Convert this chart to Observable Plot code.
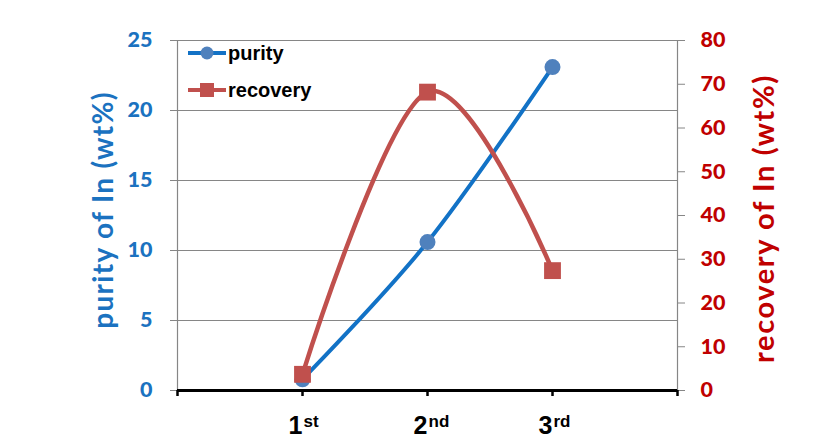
<!DOCTYPE html>
<html><head><meta charset="utf-8">
<script src="https://cdn.jsdelivr.net/npm/d3@7"></script>
<script src="https://cdn.jsdelivr.net/npm/@observablehq/plot@0.6"></script>
<style>
body{margin:0;background:#fff}
#wrap{position:relative;width:834px;height:443px;overflow:hidden}
.ytitle{position:absolute;font-family:Lato,sans-serif;font-weight:bold;white-space:nowrap;transform-origin:center center;}
.leg{position:absolute;font-family:"Liberation Sans",Arial,sans-serif;font-weight:bold;font-size:20px;color:#000;display:flex;align-items:center}
</style>
</head><body><div id="wrap"></div>
<script>
// ---- data ----
const categories = ["1st", "2nd", "3rd"];
const catNumbers = ["1", "2", "3"];
const catSuffixes = ["st", "nd", "rd"];
const purity = [0.8, 10.6, 23.1];      // left axis, wt%
const recovery = [3.7, 68.2, 27.4];    // right axis, wt%
const leftTicks = [0, 5, 10, 15, 20, 25];
const rightTicks = [0, 10, 20, 30, 40, 50, 60, 70, 80];
const xTicks = [0, 1, 2, 3, 4];

const leftMax = 25, rightMax = 80;
const k = leftMax / rightMax;

const blueLine = "#1272C6", blueDot = "#4F81BD";
const red = "#C0504D";
const blueText = "#1B72C0", redText = "#C00000";

const rows = categories.map((c, i) => ({
  cat: c, xi: i + 1, num: catNumbers[i], suf: catSuffixes[i],
  purity: purity[i], recovery: recovery[i], recScaled: recovery[i] * k
}));

const smooth = d3.curveCardinal.tension(0);

const chart = Plot.plot({
  width: 834, height: 443,
  marginLeft: 177, marginRight: 157, marginTop: 40, marginBottom: 53,
  style: {fontFamily: "Lato, sans-serif", fontWeight: "bold", background: "#fff", overflow: "visible"},
  x: {domain: [0, 4]},
  y: {domain: [0, leftMax]},
  marks: [
    Plot.gridY(leftTicks, {stroke: "#868686", strokeOpacity: 1, strokeWidth: 1.2}),
    Plot.ruleX([0], {stroke: "#868686", strokeWidth: 1.2}),
    Plot.ruleX([4], {stroke: "#868686", strokeWidth: 1.2}),
    Plot.axisY(leftTicks, {anchor: "left", tickSize: 7, tickPadding: 18, stroke: "#868686",
      fill: blueText, fontSize: 21.5, fontWeight: 900, label: null}),
    Plot.axisY(rightTicks.map(v => v * k), {anchor: "right", tickSize: 7, tickPadding: 16, stroke: "#868686",
      fill: redText, fontSize: 21.5, fontWeight: 900, label: null,
      tickFormat: d => String(Math.round(d / k))}),
    Plot.axisX(xTicks, {anchor: "bottom", tickSize: 6, stroke: "#000", strokeWidth: 2.5, tickFormat: () => "", label: null}),
    Plot.ruleY([0], {stroke: "#000", strokeWidth: 3}),
    Plot.text(rows, {x: "xi", y: 0, text: "num", textAnchor: "end", lineAnchor: "top", dy: 26,
      fontSize: 25, fontFamily: "Liberation Sans, Arial, sans-serif", fontWeight: "bold", fill: "#000"}),
    Plot.text(rows, {x: "xi", y: 0, text: "suf", textAnchor: "start", lineAnchor: "top", dy: 24, dx: 1,
      fontSize: 17, fontFamily: "Liberation Sans, Arial, sans-serif", fontWeight: "bold", fill: "#000"}),
    Plot.line(rows, {x: "xi", y: "purity", curve: smooth, stroke: blueLine, strokeWidth: 4}),
    Plot.dot(rows, {x: "xi", y: "purity", r: 8, fill: blueDot, stroke: null}),
    Plot.line(rows, {x: "xi", y: "recScaled", curve: smooth, stroke: red, strokeWidth: 4.5}),
    Plot.dot(rows, {x: "xi", y: "recScaled", symbol: "square", r: 9.5, fill: red, stroke: null})
  ]
});

const wrap = document.getElementById("wrap");
wrap.appendChild(chart);

// axis titles
function addTitle(text, color, cx, cy, size, spacing) {
  const d = document.createElement("div");
  d.className = "ytitle";
  d.textContent = text;
  d.style.color = color;
  d.style.fontSize = size + "px";
  d.style.letterSpacing = spacing + "px";
  wrap.appendChild(d);
  const w = d.offsetWidth, h = d.offsetHeight;
  d.style.left = (cx - w / 2) + "px";
  d.style.top = (cy - h / 2) + "px";
  d.style.transform = "rotate(-90deg)";
}
addTitle("purity of In (wt%)", blueText, 101, 210, 28, 1.3);
addTitle("recovery of In (wt%)", redText, 762, 218, 29, 1.6);

// legend
function addLegend(label, color, sym, top) {
  const d = document.createElement("div");
  d.className = "leg";
  d.style.left = "188px";
  d.style.top = (top - 14) + "px";
  d.style.height = "28px";
  const marker = sym === "circle"
    ? `<circle cx="19" cy="14" r="6.5" fill="${blueDot}"/>`
    : `<rect x="12" y="7" width="14" height="14" fill="${color}"/>`;
  d.innerHTML = `<svg width="38" height="28"><line x1="0" x2="38" y1="14" y2="14" stroke="${color}" stroke-width="4"/>${marker}</svg><span style="margin-left:2px">${label}</span>`;
  wrap.appendChild(d);
}
addLegend("purity", blueLine, "circle", 53);
addLegend("recovery", red, "square", 90);
</script>
</body></html>
